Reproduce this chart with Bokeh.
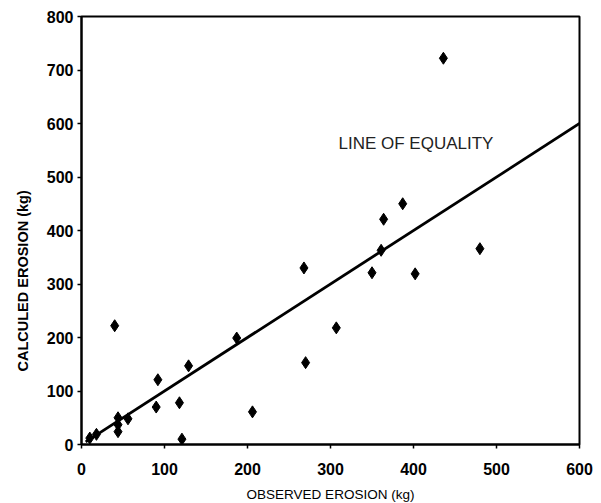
from bokeh.plotting import figure
from bokeh.models import Range1d, Label, FixedTicker, Title
from bokeh.embed import file_html
from bokeh.resources import INLINE

observed = [10, 18, 40, 44, 44, 44, 56, 90, 92, 118, 121, 129, 187, 206,
            268, 270, 307, 350, 361, 364, 387, 402, 436, 480]
calculated = [12, 19, 222, 50, 37, 24, 48, 70, 121, 78, 10, 147, 199, 61,
              330, 153, 218, 321, 363, 421, 450, 319, 722, 366]
equality_x = [5, 600]
equality_y = [5, 600]
x_ticks = [0, 100, 200, 300, 400, 500, 600]
y_ticks = [0, 100, 200, 300, 400, 500, 600, 700, 800]

p = figure(output_backend="svg", toolbar_location=None,
           frame_width=498, frame_height=428,
           min_border_left=80, min_border_right=14,
           min_border_top=16, min_border_bottom=51,
           x_range=Range1d(0, 600), y_range=Range1d(0, 800))
p.width = 592
p.height = 495

p.grid.visible = False
p.outline_line_color = "black"
p.outline_line_width = 2
p.outline_line_alpha = 1.0

for ax in (p.xaxis[0], p.yaxis[0]):
    ax.axis_line_width = 2
    ax.major_tick_line_width = 1.5
    ax.major_tick_out = 4
    ax.major_tick_in = 0
    ax.minor_tick_line_color = None
    ax.major_label_text_font = "Liberation Sans"
    ax.major_label_text_font_style = "bold"
    ax.major_label_text_font_size = "16px"
    ax.major_label_text_color = "black"
    ax.axis_label_text_font = "Liberation Sans"
    ax.axis_label_text_color = "black"

p.xaxis[0].ticker = FixedTicker(ticks=x_ticks)
p.yaxis[0].ticker = FixedTicker(ticks=y_ticks)
p.xaxis[0].major_label_standoff = 14
p.yaxis[0].major_label_standoff = 4

p.xaxis[0].axis_label = "OBSERVED EROSION (kg)"
p.xaxis[0].axis_label_text_font_style = "normal"
p.xaxis[0].axis_label_text_font_size = "13.5px"
p.xaxis[0].axis_label_standoff = 9

p.line(equality_x, equality_y, line_color="black", line_width=2.8)
p.scatter(observed, calculated, marker="diamond", size=12,
          fill_color="black", line_color="black")

p.add_layout(Label(x=403, y=563, text="LINE OF EQUALITY",
                   text_font="Liberation Sans", text_font_size="17px",
                   text_align="center", text_baseline="middle",
                   text_color="#222222"))

# y-axis title, placed lower than centre as in the reference
p.add_layout(Title(text="CALCULED EROSION (kg)", align="left", offset=73,
                   text_font="Liberation Sans", text_font_size="14.5px",
                   text_font_style="bold", text_color="black",
                   standoff=25), "left")

open("out.html", "w").write(file_html(p, INLINE))
